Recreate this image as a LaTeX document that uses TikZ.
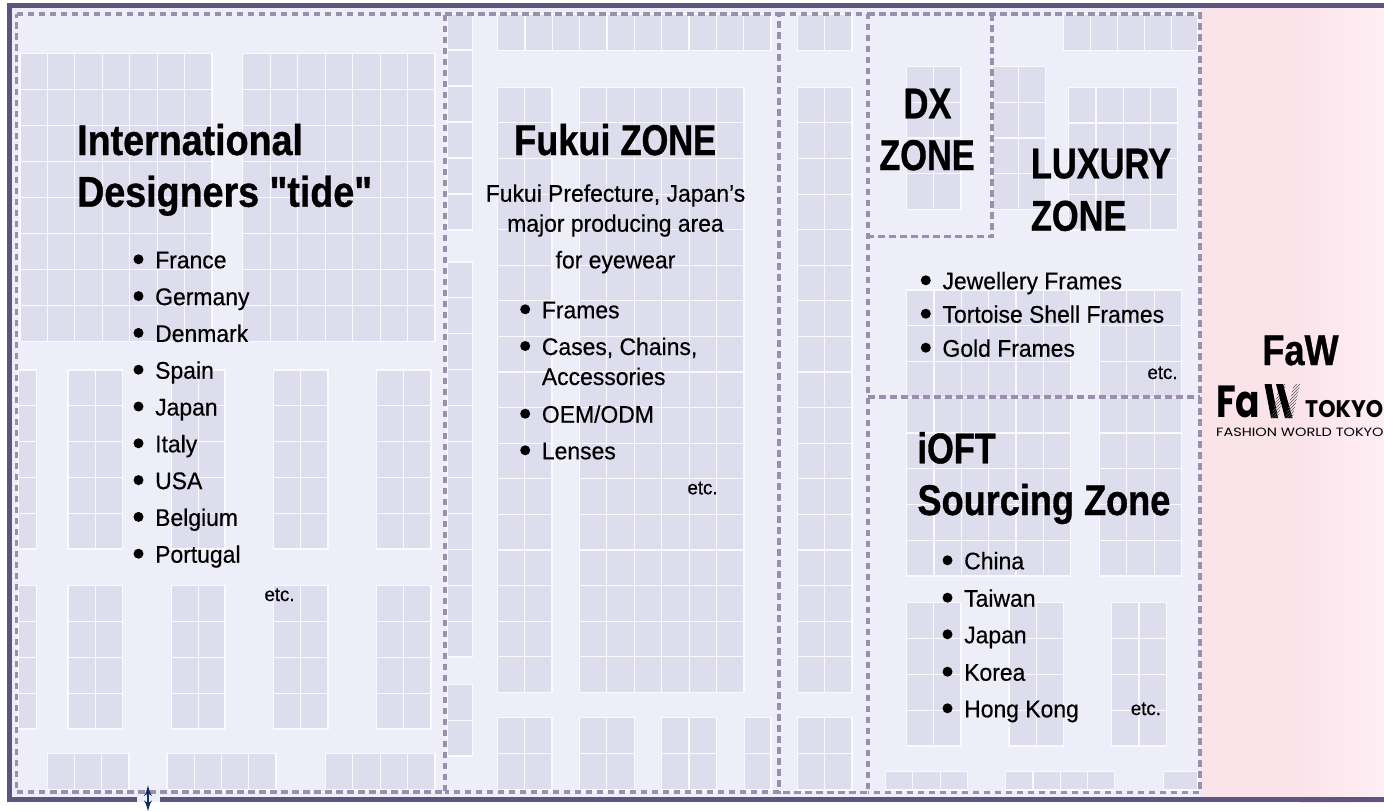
\documentclass[tikz,border=0pt]{standalone}
\usepackage{fontspec}
\usetikzlibrary{arrows,patterns}
\setmainfont[Ligatures=TeXOff,FakeStretch=0.955,FakeBold=0.4,BoldFeatures={FakeStretch=0.875,FakeBold=0.8}]{Liberation Sans}
\newfontfamily\capsfont[FakeStretch=0.80,FakeBold=0.8]{Liberation Sans Bold}
\newfontfamily\midfont[FakeStretch=0.84,FakeBold=0.8]{Liberation Sans Bold}
\newfontfamily\logofont[FakeStretch=0.92]{Poppins}
\newfontfamily\logosmall[FakeStretch=1.21]{Poppins}
\newfontfamily\logofa[FakeStretch=0.8]{Poppins}
\definecolor{hallbg}{HTML}{EEEEF8}
\definecolor{boothbg}{HTML}{DEDDEE}
\definecolor{boothline}{HTML}{FAFAFE}
\definecolor{framecol}{HTML}{5F5480}
\definecolor{dashcol}{HTML}{9B8FAE}
\definecolor{pinkbg}{HTML}{FBE3EA}
\definecolor{pinklight}{HTML}{FEEFF4}
\definecolor{gatecol}{HTML}{0F2F60}
\tikzset{
    booth/.style={draw=boothline,fill=boothbg,line width=1.1pt},
    cellline/.style={draw=boothline,line width=1.1pt},
    zoneline/.style={draw=dashcol,line width=3.6pt,dash pattern=on 6.5pt off 4.5pt},
    hallframe/.style={draw=framecol,line width=5pt},
    gatearrow/.style={<->,> = latex',draw=gatecol,line width=2.8pt},
    titletext/.style={anchor=base west,inner sep=0pt,font=\fontsize{43}{43}\selectfont\bfseries},
    capstext/.style={anchor=base west,inner sep=0pt,font=\fontsize{43}{43}\selectfont\capsfont},
    midtext/.style={anchor=base west,inner sep=0pt,font=\fontsize{43}{43}\selectfont\midfont},
    itemtext/.style={anchor=base west,inner sep=0pt,font=\fontsize{24}{24}\selectfont},
    subtext/.style={anchor=base,inner sep=0pt,font=\fontsize{24}{24}\selectfont},
    etctext/.style={anchor=base west,inner sep=0pt,font=\fontsize{19.5}{19.5}\selectfont}
}
\newcommand{\boothblock}[6]{
    \draw[booth] (#1,#2) rectangle (#3,#4);
    \foreach \k in {1,...,#5} {
        \draw[cellline] ({#1+\k*(#3-#1)/#5},#2) -- ({#1+\k*(#3-#1)/#5},#4);
    }
    \foreach \k in {1,...,#6} {
        \draw[cellline] (#1,{#2+\k*(#4-#2)/#6}) -- (#3,{#2+\k*(#4-#2)/#6});
    }
}
\newcommand{\zoneitem}[4]{
    \fill (#2-16.5,#3-9) circle (5pt);
    \node[itemtext] (#1) at (#2,#3) {#4};
}
\begin{document}
\begin{tikzpicture}[x=1pt,y=-1pt]
\useasboundingbox (0,0) rectangle (1384,811);

\fill[hallbg] (8,4) rectangle (1201,802);
\fill[pinkbg] (1201,4) rectangle (1300,802);
\shade[left color=pinkbg,right color=pinklight] (1300,4) rectangle (1384,802);

\boothblock{20}{53.5}{212}{341.5}{7}{8}
\boothblock{242.7}{53.5}{435}{341.5}{7}{8}
\foreach \a/\b/\c in {18/36.5/1,68/122.5/2,171.5/225/2,273.5/328/2,376.5/431/2} {
    \boothblock{\a}{370}{\b}{549}{\c}{5}
    \boothblock{\a}{585.7}{\b}{729}{\c}{4}
}
\boothblock{47.5}{753.3}{129}{790}{3}{1}
\boothblock{167}{753.3}{276}{790}{4}{1}
\boothblock{325.5}{753.3}{435}{790}{4}{1}

\boothblock{447}{14}{472.3}{230}{1}{6}
\boothblock{447}{262}{472.3}{657}{1}{11}
\boothblock{447}{684.3}{472.3}{756}{1}{2}
\boothblock{497.7}{14}{771}{50.3}{10}{1}
\boothblock{497.7}{87.3}{552}{692.3}{2}{17}
\boothblock{579.3}{87.3}{744}{692.3}{6}{17}
\boothblock{497.7}{717.3}{552}{790}{2}{2}
\boothblock{579.3}{717.3}{634.3}{790}{2}{2}
\boothblock{661.7}{717.3}{716.3}{790}{2}{2}
\boothblock{744.7}{717.3}{771}{790}{1}{2}

\boothblock{797.7}{14}{852}{50.3}{2}{1}
\boothblock{797.7}{87.3}{852}{692.3}{2}{17}
\boothblock{797.7}{717.3}{852}{790}{2}{2}

\boothblock{906.7}{66.7}{961}{209.3}{2}{4}
\boothblock{992}{66.7}{1045.3}{209.3}{2}{4}
\boothblock{1068.7}{87.3}{1177.7}{230}{4}{4}
\boothblock{1063.3}{14}{1198}{50.3}{5}{1}
\boothblock{906.7}{290}{1070.7}{576}{6}{8}
\boothblock{1099.3}{290}{1181.7}{576}{3}{8}
\boothblock{906.7}{602.7}{961}{746}{2}{4}
\boothblock{1009}{602.7}{1063.3}{746}{2}{4}
\boothblock{1111.7}{602.7}{1166.3}{746}{2}{4}
\boothblock{885.7}{771.7}{967.3}{790}{3}{1}
\boothblock{1005.7}{771.7}{1114.7}{790}{4}{1}
\boothblock{1163.7}{771.7}{1198}{790}{1}{1}

\draw[zoneline] (16.5,14) -- (445,14) -- (445,792) -- (16.5,792) -- cycle;
\draw[zoneline] (445,14) -- (778.7,14) -- (778.7,792) -- (445,792);
\draw[zoneline] (778.7,14) -- (868,14) -- (868,792.6) -- (778.7,792.6);
\draw[zoneline] (868,14) -- (1200,14) -- (1200,792.3) -- (868,792.3);
\draw[zoneline] (992,14) -- (992,236.5) -- (868,236.5);
\draw[zoneline] (868,396.7) -- (1200,396.7);

\draw[hallframe] (137,799.5) -- (9.8,799.5) -- (9.8,5.8) -- (1390,5.8);
\draw[hallframe] (160,799.5) -- (1390,799.5);

\coordinate (gatetop) at (148,785);
\coordinate (gatebot) at (148,811.5);
\draw[gatearrow] (gatetop) -- (gatebot);

\node[titletext] (intlA) at (77,155) {International};
\node[titletext] (intlB) at (77,206.7) {Designers "tide"};
\zoneitem{france}{155}{268.3}{France}
\zoneitem{germany}{155}{305.1}{Germany}
\zoneitem{denmark}{155}{341.9}{Denmark}
\zoneitem{spain}{155}{378.7}{Spain}
\zoneitem{japanA}{155}{415.5}{Japan}
\zoneitem{italy}{155}{452.3}{Italy}
\zoneitem{usa}{155}{489.1}{USA}
\zoneitem{belgium}{155}{525.9}{Belgium}
\zoneitem{portugal}{155}{562.7}{Portugal}
\node[etctext] (etcA) at (264.3,601) {etc.};

\node[capstext] (fukui) at (514,155) {{\midfont Fukui }ZONE};
\node[subtext] (fukuiA) at (615.5,201.7) {Fukui Prefecture, Japan’s};
\node[subtext] (fukuiB) at (615.5,231.7) {major producing area};
\node[subtext] (fukuiC) at (615.5,268.3) {for eyewear};
\zoneitem{frames}{541.7}{318.3}{Frames}
\zoneitem{cases}{541.7}{355}{Cases, Chains,}
\node[itemtext] (accessories) at (541.7,385) {Accessories};
\zoneitem{oem}{541.7}{422.7}{OEM/ODM}
\zoneitem{lenses}{541.7}{459.3}{Lenses}
\node[etctext] (etcB) at (687.3,494.3) {etc.};

\node[capstext,anchor=base] (dxA) at (927.5,118.3) {DX};
\node[capstext,anchor=base] (dxB) at (927,170) {ZONE};

\node[capstext] (luxA) at (1030.7,178.3) {LUXURY};
\node[capstext] (luxB) at (1030.7,230.7) {ZONE};
\zoneitem{jewel}{942.3}{289.3}{Jewellery Frames}
\zoneitem{tortoise}{942.3}{322.7}{Tortoise Shell Frames}
\zoneitem{gold}{942.3}{356.7}{Gold Frames}
\node[etctext] (etcC) at (1147.3,379) {etc.};

\node[capstext] (ioftA) at (917.3,463.3) {iOFT};
\node[midtext] (ioftB) at (917.3,515) {Sourcing Zone};
\zoneitem{china}{964}{569.3}{China}
\zoneitem{taiwan}{964}{606.7}{Taiwan}
\zoneitem{japanB}{964}{643.3}{Japan}
\zoneitem{korea}{964}{680.7}{Korea}
\zoneitem{hongkong}{964}{717.3}{Hong Kong}
\node[etctext] (etcD) at (1130.7,715) {etc.};

\node[midtext,anchor=base] (faw) at (1300.5,365) {FaW};
\node[anchor=base west,inner sep=0pt,font=\logofa\fontsize{45}{45}\selectfont\bfseries] (logoFa) at (1216,417.3) {Fa};
\fill[black] (1264.5,384) -- (1271.5,384) -- (1278,418) -- (1271,418) -- cycle;
\fill[pattern=north east lines,pattern color=black!65] (1280,384) -- (1286,384) -- (1278,418) -- (1271,418) -- cycle;
\fill[black] (1276,384) -- (1283,384) -- (1292.5,418) -- (1285,418) -- cycle;
\fill[pattern=north east lines,pattern color=black!65] (1294,384) -- (1300,384) -- (1292.5,418) -- (1285.5,418) -- cycle;
\node[anchor=base west,inner sep=0pt,font=\logofont\fontsize{24}{24}\selectfont\bfseries] (logoTokyo) at (1305,417.3) {TOKYO};
\node[anchor=base west,inner sep=0pt,font=\logosmall\fontsize{12}{12}\selectfont] (logoWorld) at (1216,436.5) {FASHION WORLD TOKYO};

\end{tikzpicture}
\end{document}
